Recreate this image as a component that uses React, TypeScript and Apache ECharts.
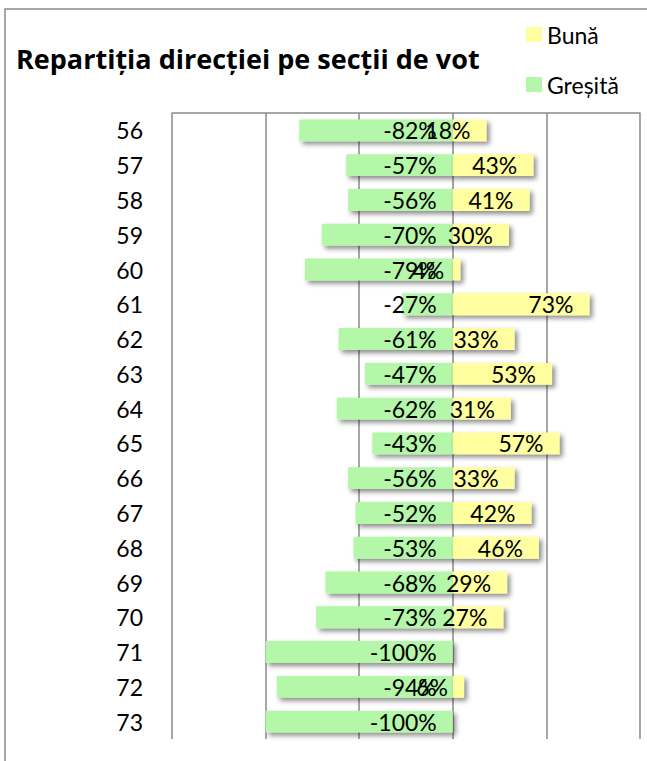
import React, { useEffect, useRef } from "react";
import * as echarts from "echarts";

const categories = ["56", "57", "58", "59", "60", "61", "62", "63", "64", "65", "66", "67", "68", "69", "70", "71", "72", "73"];
const buna = [18, 43, 41, 30, 4, 73, 33, 53, 31, 57, 33, 42, 46, 29, 27, 0, 6, 0];
const gresita = [-82, -57, -56, -70, -79, -27, -61, -47, -62, -43, -56, -52, -53, -68, -73, -100, -94, -100];

const FONT = "Lato";

export default function App() {
  const ref = useRef<HTMLDivElement>(null);
  useEffect(() => {
    const chart = echarts.init(ref.current!, null, { renderer: "svg" });
    const shadow = {
      shadowBlur: 5,
      shadowOffsetX: 3,
      shadowOffsetY: 3,
      shadowColor: "rgba(0,0,0,0.45)",
    };
    const labelBase = {
      show: true,
      position: "insideRight" as const,
      distance: 16,
      color: "#000",
      fontFamily: FONT,
      fontSize: 23,
      formatter: (p: any) => (p.value === 0 ? "" : p.value + "%"),
    };
    chart.setOption({
      animation: false,
      backgroundColor: "#fff",
      title: {
        text: "Repartiția direcției pe secții de vot",
        left: 11,
        top: 40,
        textStyle: { fontFamily: "Open Sans", fontWeight: "bold", fontSize: 27, color: "#000" },
      },
      legend: {
        orient: "vertical",
        left: 521,
        top: 18,
        itemWidth: 16,
        itemHeight: 15,
        itemGap: 27,
        icon: "rect",
        data: ["Bună", "Greșită"],
        textStyle: { fontFamily: FONT, fontSize: 23, color: "#000" },
      },
      graphic: [
        {
          type: "rect",
          shape: { x: 5, y: 9, width: 700, height: 800 },
          style: { fill: "none", stroke: "#8a8a8a", lineWidth: 1.5 },
          silent: true,
        },
      ],
      grid: { left: 172, top: 113, right: 7, bottom: 22 },
      xAxis: {
        type: "value",
        position: "top",
        min: -150,
        max: 100,
        interval: 50,
        axisLine: { show: true, lineStyle: { color: "#8a8a8a", width: 1.5 } },
        axisTick: { show: false },
        axisLabel: { show: false },
        splitLine: { show: true, lineStyle: { color: "#8a8a8a", width: 1.5 } },
      },
      yAxis: {
        type: "category",
        inverse: true,
        data: categories,
        axisLine: { show: false },
        axisTick: { show: false },
        axisLabel: { margin: 29, fontFamily: FONT, fontSize: 23, color: "#000" },
      },
      series: [
        {
          name: "Greșită",
          type: "bar",
          stack: "total",
          data: gresita,
          barWidth: "63%",
          itemStyle: { color: "#b4f7a8", ...shadow },
          label: labelBase,
          z: 2,
        },
        {
          name: "Bună",
          type: "bar",
          stack: "total",
          data: buna,
          barWidth: "63%",
          itemStyle: { color: "#ffffa0", ...shadow },
          label: labelBase,
          z: 3,
        },
      ],
    });
    return () => chart.dispose();
  }, []);
  return (
    <div
      ref={ref}
      style={{ position: "absolute", left: 0, top: 0, width: 647, height: 761 }}
    />
  );
}
